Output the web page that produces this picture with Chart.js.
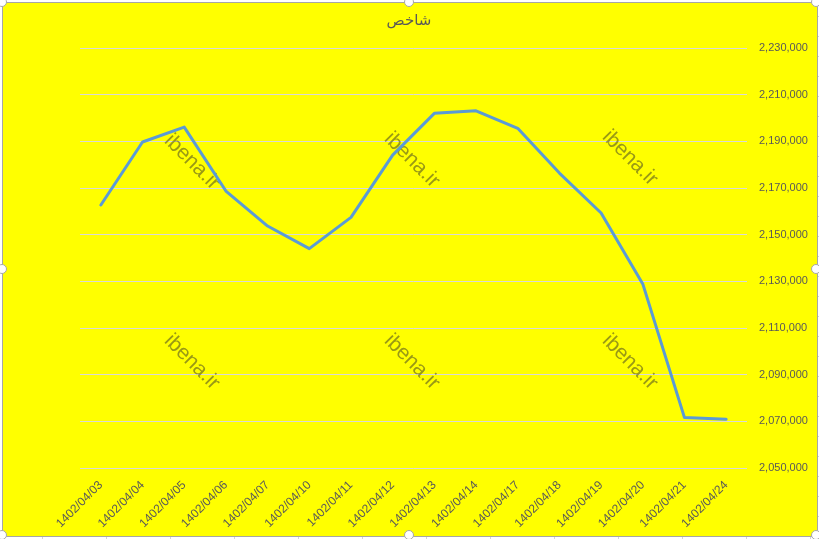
<!DOCTYPE html>
<html lang="fa">
<head>
    <meta charset="UTF-8">
    <title>شاخص</title>
    <script src="https://cdn.jsdelivr.net/npm/chart.js"></script>
    <style>
        body { margin: 0; width: 819px; height: 539px; overflow: hidden; background: #fff; position: relative; }
        .sheet-right { position: absolute; left: 818px; top: 0; width: 1px; height: 539px;
            background: repeating-linear-gradient(to bottom, transparent 0 16px, #d4d4d4 16px 17px, transparent 17px 20px); }
        .sheet-bottom { position: absolute; left: 0; top: 537px; width: 819px; height: 2px;
            background: repeating-linear-gradient(to right, transparent 0 42px, #d4d4d4 42px 43px, transparent 43px 64px); }
        .chart-box { position: absolute; left: 2px; top: 2px; width: 814px; height: 533px;
            background: #ffff00; border: 1px solid #a6a6a6; }
        canvas { position: absolute; left: 0; top: 0; }
        .handle { position: absolute; width: 8px; height: 8px; border-radius: 50%;
            background: #fff; border: 1px solid #a6a6a6; }
    </style>
</head>
<body>
    <div class="sheet-right"></div>
    <div class="sheet-bottom"></div>
    <div class="chart-box"></div>
    <canvas id="myChart" width="819" height="539"></canvas>
    <div class="handle" style="left:-3px;top:-3px"></div>
    <div class="handle" style="left:404px;top:-3px"></div>
    <div class="handle" style="left:811px;top:-3px"></div>
    <div class="handle" style="left:-3px;top:264px"></div>
    <div class="handle" style="left:811px;top:264px"></div>
    <div class="handle" style="left:-3px;top:530px"></div>
    <div class="handle" style="left:404px;top:530px"></div>
    <div class="handle" style="left:811px;top:530px"></div>
    <script>
        const chartTitle = 'شاخص';
        const dates = [
            '1402/04/03', '1402/04/04', '1402/04/05', '1402/04/06',
            '1402/04/07', '1402/04/10', '1402/04/11', '1402/04/12',
            '1402/04/13', '1402/04/14', '1402/04/17', '1402/04/18',
            '1402/04/19', '1402/04/20', '1402/04/21', '1402/04/24'
        ];
        const indexValues = [
            2162700, 2189700, 2196100, 2168700,
            2153700, 2144000, 2157400, 2184100,
            2202000, 2203100, 2195600, 2176400,
            2159300, 2128900, 2071600, 2070900
        ];
        const yMin = 2050000;
        const yMax = 2230000;
        const yStep = 20000;
        const watermark = 'ibena.ir';

        const textColor = '#595959';
        const fontFamily = "Tahoma, 'DejaVu Sans', sans-serif";

        // title and watermarks drawn on the canvas
        const extras = {
            id: 'extras',
            beforeDatasetsDraw(chart) {
                const ctx = chart.ctx;
                const spots = [[192, 162], [412, 160], [630, 158], [192, 362], [412, 362], [630, 362]];
                ctx.save();
                ctx.font = "21px Arial, 'Liberation Sans', sans-serif";
                ctx.fillStyle = 'rgba(110, 110, 30, 0.7)';
                ctx.textAlign = 'center';
                ctx.textBaseline = 'middle';
                spots.forEach(([x, y]) => {
                    ctx.save();
                    ctx.translate(x, y);
                    ctx.rotate(Math.PI / 4);
                    ctx.fillText(watermark, 0, 0);
                    ctx.restore();
                });
                ctx.restore();
            },
            afterDraw(chart) {
                const ctx = chart.ctx;
                ctx.save();
                ctx.font = '15px ' + fontFamily;
                ctx.fillStyle = textColor;
                ctx.textAlign = 'center';
                ctx.textBaseline = 'middle';
                ctx.fillText(chartTitle, 409, 21);
                ctx.restore();
            }
        };

        const ctx = document.getElementById('myChart').getContext('2d');
        new Chart(ctx, {
            type: 'line',
            data: {
                labels: dates,
                datasets: [{
                    label: chartTitle,
                    data: indexValues,
                    borderColor: '#5b9bd5',
                    borderWidth: 3,
                    pointRadius: 0,
                    tension: 0,
                    borderJoinStyle: 'round',
                    borderCapStyle: 'round'
                }]
            },
            options: {
                responsive: false,
                devicePixelRatio: 1,
                animation: false,
                layout: { padding: { left: 80, top: 48, right: 0, bottom: 0 } },
                plugins: {
                    legend: { display: false },
                    title: { display: false },
                    tooltip: { enabled: false }
                },
                scales: {
                    x: {
                        offset: true,
                        grid: { display: false },
                        border: { display: false },
                        ticks: {
                            autoSkip: false,
                            minRotation: 45,
                            maxRotation: 45,
                            padding: 2,
                            color: textColor,
                            font: { family: "Arial, 'Liberation Sans', sans-serif", size: 12 }
                        },
                        afterFit(scale) { scale.height = 71; }
                    },
                    y: {
                        position: 'right',
                        min: yMin,
                        max: yMax,
                        grid: { color: '#d9d9d9', drawTicks: false },
                        border: { display: false },
                        ticks: {
                            stepSize: yStep,
                            padding: 12,
                            color: textColor,
                            font: { family: "Arial, 'Liberation Sans', sans-serif", size: 11 },
                            callback: v => v.toLocaleString('en-US')
                        },
                        afterFit(scale) { scale.width = 72; }
                    }
                }
            },
            plugins: [extras]
        });
    </script>
</body>
</html>
